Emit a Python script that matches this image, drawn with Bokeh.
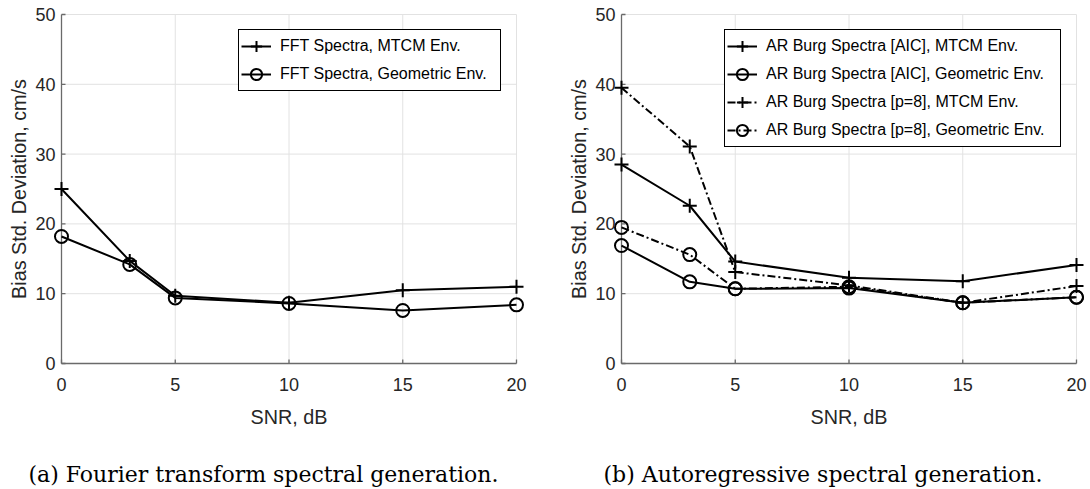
from bokeh.plotting import figure
from bokeh.models import Range1d, FixedTicker, Legend, LegendItem, Label
from bokeh.layouts import row, column
from bokeh.embed import file_html
from bokeh.resources import INLINE

# ---------------- data ----------------
SNR = [0, 3, 5, 10, 15, 20]

FFT_MTCM = [25.0, 14.7, 9.7, 8.7, 10.5, 11.0]
FFT_GEO = [18.2, 14.2, 9.4, 8.6, 7.6, 8.4]

AR_AIC_MTCM = [28.5, 22.6, 14.6, 12.3, 11.8, 14.1]
AR_AIC_GEO = [16.9, 11.7, 10.7, 10.8, 8.7, 9.5]
AR_P8_MTCM = [39.5, 31.1, 13.1, 11.2, 8.7, 11.1]
AR_P8_GEO = [19.5, 15.6, 10.7, 11.0, 8.7, 9.5]

X_TICKS = [0, 5, 10, 15, 20]
Y_TICKS = [0, 10, 20, 30, 40, 50]

LABELS_A = ["FFT Spectra, MTCM Env.", "FFT Spectra, Geometric Env."]
LABELS_B = ["AR Burg Spectra [AIC], MTCM Env.",
            "AR Burg Spectra [AIC], Geometric Env.",
            "AR Burg Spectra [p=8], MTCM Env.",
            "AR Burg Spectra [p=8], Geometric Env."]

X_LABEL = "SNR, dB"
Y_LABEL = "Bias Std. Deviation, cm/s"
CAPTION_A = "(a) Fourier transform spectral generation."
CAPTION_B = "(b) Autoregressive spectral generation."

# ---------------- styling ----------------
FIG_W = 545
PLOT_H = 440
CAP_H = 49
TOP, BOTTOM = 6, 69
PAD = 8
SANS = "Liberation Sans"
TXT = "#262626"
AXC = "#6a6a6a"
GRID = "#e2e2e2"
DASHDOT = "8 3 2 3"
TICK_LEN = 4


def make_panel(series, labels, dashes, markers, left, right, label_width):
    W = FIG_W - left - right
    H = PLOT_H - TOP - BOTTOM
    x0, xmax = X_TICKS[0], X_TICKS[-1]
    y0, ymax = Y_TICKS[0], Y_TICKS[-1]
    px = (xmax - x0) * PAD / (W - 2 * PAD)
    py = (ymax - y0) * PAD / (H - 2 * PAD)
    ux = (xmax - x0) / (W - 2 * PAD)   # data units per pixel
    uy = (ymax - y0) / (H - 2 * PAD)
    p = figure(width=FIG_W, height=PLOT_H, output_backend="svg", toolbar_location=None,
               x_range=Range1d(x0 - px, xmax + px), y_range=Range1d(y0 - py, ymax + py),
               min_border_left=left, min_border_right=right,
               min_border_top=TOP, min_border_bottom=BOTTOM,
               background_fill_color="white", border_fill_color="white")
    p.outline_line_color = None
    p.grid.visible = False

    # grid lines (bounded to the axes box)
    gx = X_TICKS[1:]
    p.segment(x0=gx, x1=gx, y0=[y0] * len(gx), y1=[ymax] * len(gx),
              line_color=GRID, line_width=1)
    gy = Y_TICKS[1:]
    p.segment(x0=[x0] * len(gy), x1=[xmax] * len(gy), y0=gy, y1=gy,
              line_color=GRID, line_width=1)

    # axis lines and inward ticks at the data origin
    p.segment(x0=[x0, x0], x1=[xmax, x0], y0=[y0, y0], y1=[y0, ymax],
              line_color=AXC, line_width=1.3)
    p.segment(x0=X_TICKS, x1=X_TICKS, y0=[y0] * len(X_TICKS),
              y1=[y0 + TICK_LEN * uy] * len(X_TICKS), line_color=AXC, line_width=1.3)
    p.segment(x0=[x0] * len(Y_TICKS), x1=[x0 + TICK_LEN * ux] * len(Y_TICKS),
              y0=Y_TICKS, y1=Y_TICKS, line_color=AXC, line_width=1.3)

    items = []
    for ys, lab, dash, mk in zip(series, labels, dashes, markers):
        ln = p.line(SNR, ys, line_color="black", line_width=2, line_dash=dash)
        if mk == "circle":
            sc = p.scatter(SNR, ys, marker="circle", size=13, fill_color=None,
                           line_color="black", line_width=2)
        else:
            sc = p.scatter(SNR, ys, marker="cross", size=14,
                           line_color="black", line_width=2)
        items.append(LegendItem(label=lab, renderers=[ln, sc]))

    for ax in (p.xaxis[0], p.yaxis[0]):
        ax.axis_line_color = None
        ax.major_tick_line_color = None
        ax.minor_tick_line_color = None
        ax.major_tick_in = 0
        ax.major_tick_out = 0
        ax.major_label_text_font = SANS
        ax.major_label_text_font_size = "18px"
        ax.major_label_text_color = TXT
        ax.axis_label_text_font = SANS
        ax.axis_label_text_font_size = "19.8px"
        ax.axis_label_text_font_style = "normal"
        ax.axis_label_text_color = TXT

    p.xaxis.ticker = FixedTicker(ticks=X_TICKS)
    p.yaxis.ticker = FixedTicker(ticks=Y_TICKS)
    p.xaxis.axis_label = X_LABEL
    p.yaxis.axis_label = Y_LABEL
    p.xaxis.major_label_standoff = 6
    p.xaxis.axis_label_standoff = 12
    p.yaxis.major_label_standoff = -2
    p.yaxis.axis_label_standoff = 2

    legend = Legend(items=items, location="top_right", margin=23,
                    label_text_font=SANS, label_text_font_size="16px",
                    label_text_color="black",
                    border_line_color="black", border_line_width=1, border_line_alpha=1,
                    background_fill_color="white", background_fill_alpha=1,
                    glyph_width=30, glyph_height=28, label_height=20,
                    spacing=-4, padding=2, label_standoff=9, label_width=label_width)
    p.add_layout(legend)
    return p


def make_caption(text, left_x):
    c = figure(width=FIG_W, height=CAP_H, output_backend="svg", toolbar_location=None,
               x_range=Range1d(0, 1), y_range=Range1d(0, 1),
               min_border=0, min_border_left=0, min_border_right=0,
               min_border_top=0, min_border_bottom=0,
               background_fill_color="white", border_fill_color="white")
    c.outline_line_color = None
    c.axis.visible = False
    c.grid.visible = False
    c.add_layout(Label(x=left_x, y=15, x_units="screen", y_units="screen",
                       text=text, text_align="left", text_baseline="middle",
                       text_font="DejaVu Serif", text_font_size="22px",
                       text_color="black"))
    return c


p1 = make_panel([FFT_MTCM, FFT_GEO], LABELS_A, ["solid", "solid"], ["cross", "circle"],
                53, 21, 218)
p2 = make_panel([AR_AIC_MTCM, AR_AIC_GEO, AR_P8_MTCM, AR_P8_GEO], LABELS_B,
                ["solid", "solid", DASHDOT, DASHDOT], ["cross", "circle", "cross", "circle"],
                68, 6, 292)
c1 = make_caption(CAPTION_A, 28)
c2 = make_caption(CAPTION_B, 58)

layout = column(row(p1, p2), row(c1, c2))
open("out.html", "w").write(file_html(layout, INLINE))
